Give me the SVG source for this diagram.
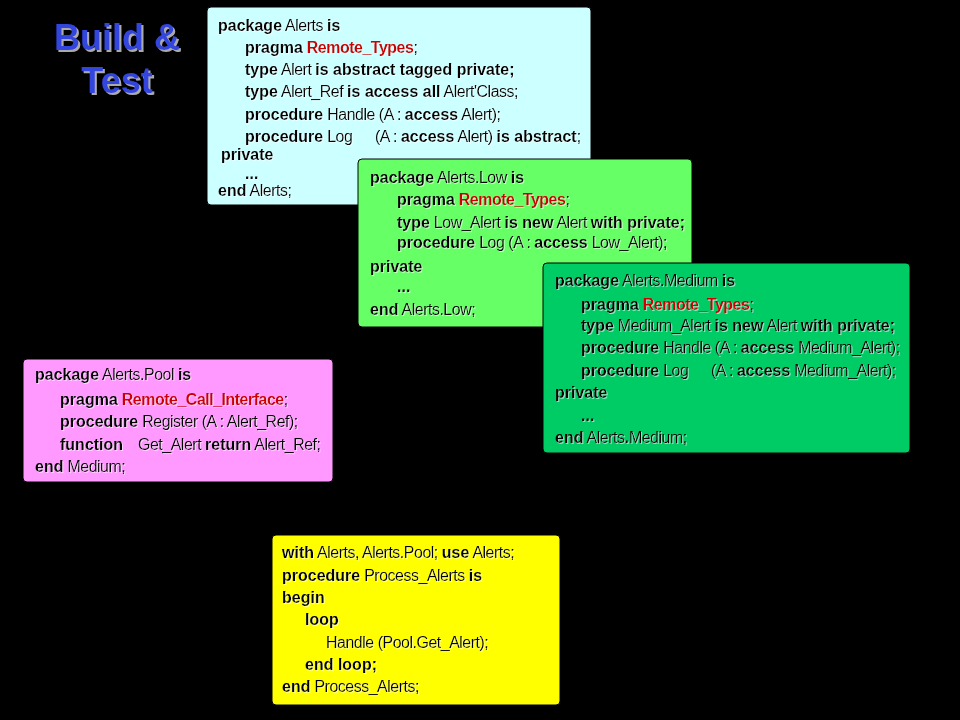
<svg xmlns="http://www.w3.org/2000/svg" width="960" height="720" viewBox="0 0 960 720">
<defs>
<filter id="ts" x="-5%" y="-20%" width="110%" height="150%">
<feDropShadow dx="1" dy="1" stdDeviation="0.3" flood-color="#ffffff" flood-opacity="0.55"/>
</filter>
<filter id="tt" x="-10%" y="-20%" width="120%" height="150%">
<feDropShadow dx="2" dy="2" stdDeviation="0.5" flood-color="#aaaaaa" flood-opacity="1"/>
</filter>
</defs>
<style>
text.c{font-family:"Liberation Sans",Arial,sans-serif;font-size:16px;fill:#000;letter-spacing:-0.5px;filter:url(#ts)}
.k{font-weight:bold;letter-spacing:0}
.r{font-weight:bold;fill:#CC0000;letter-spacing:-0.5px}
.box{stroke:#000;stroke-width:1}
.title{font-family:"Liberation Sans",Arial,sans-serif;font-size:36px;font-weight:bold;fill:#3344DD;text-anchor:middle;filter:url(#tt)}
</style>
<rect x="0" y="0" width="960" height="720" fill="#000"/>

<g id="title">
<text class="title" x="117" y="50">Build &amp;</text>
<text class="title" x="117" y="93">Test</text>
</g>

<g id="connectors"/>

<g id="alerts">
<rect class="box" x="207" y="7" width="384" height="198" rx="4" fill="#CCFFFF"/>
<text class="c" x="218" y="31"><tspan class="k">package</tspan> Alerts <tspan class="k">is</tspan></text>
<text class="c" x="245" y="53"><tspan class="k">pragma</tspan> <tspan class="r">Remote_Types</tspan>;</text>
<text class="c" x="245" y="75"><tspan class="k">type</tspan> Alert <tspan class="k">is abstract tagged private;</tspan></text>
<text class="c" x="245" y="97"><tspan class="k">type</tspan> Alert_Ref <tspan class="k">is access all</tspan> Alert'Class;</text>
<text class="c" x="245" y="120"><tspan class="k">procedure</tspan> Handle (A : <tspan class="k">access</tspan> Alert);</text>
<text class="c" x="245" y="142"><tspan class="k">procedure</tspan> Log<tspan x="375">(A : </tspan><tspan class="k">access</tspan> Alert) <tspan class="k">is abstract</tspan>;</text>
<text class="c" x="221" y="160"><tspan class="k">private</tspan></text>
<text class="c" x="245" y="179"><tspan class="k">...</tspan></text>
<text class="c" x="218" y="196"><tspan class="k">end</tspan> Alerts;</text>
</g>

<g id="alerts-low">
<rect class="box" x="358" y="159" width="334" height="168" rx="4" fill="#66FF66"/>
<text class="c" x="370" y="183"><tspan class="k">package</tspan> Alerts.Low <tspan class="k">is</tspan></text>
<text class="c" x="397" y="205"><tspan class="k">pragma</tspan> <tspan class="r">Remote_Types</tspan>;</text>
<text class="c" x="397" y="228"><tspan class="k">type</tspan> Low_Alert <tspan class="k">is new</tspan> Alert <tspan class="k">with private;</tspan></text>
<text class="c" x="397" y="248"><tspan class="k">procedure</tspan> Log (A : <tspan class="k">access</tspan> Low_Alert);</text>
<text class="c" x="370" y="272"><tspan class="k">private</tspan></text>
<text class="c" x="397" y="292"><tspan class="k">...</tspan></text>
<text class="c" x="370" y="315"><tspan class="k">end</tspan> Alerts.Low;</text>
</g>

<g id="alerts-medium">
<rect class="box" x="543" y="263" width="367" height="190" rx="4" fill="#00CC66"/>
<text class="c" x="555" y="286"><tspan class="k">package</tspan> Alerts.Medium <tspan class="k">is</tspan></text>
<text class="c" x="581" y="310"><tspan class="k">pragma</tspan> <tspan class="r">Remote_Types</tspan>;</text>
<text class="c" x="581" y="331"><tspan class="k">type</tspan> Medium_Alert <tspan class="k">is new</tspan> Alert <tspan class="k">with private;</tspan></text>
<text class="c" x="581" y="353"><tspan class="k">procedure</tspan> Handle (A : <tspan class="k">access</tspan> Medium_Alert);</text>
<text class="c" x="581" y="376"><tspan class="k">procedure</tspan> Log<tspan x="711">(A : </tspan><tspan class="k">access</tspan> Medium_Alert);</text>
<text class="c" x="555" y="398"><tspan class="k">private</tspan></text>
<text class="c" x="581" y="421"><tspan class="k">...</tspan></text>
<text class="c" x="555" y="443"><tspan class="k">end</tspan> Alerts<tspan class="k">.</tspan>Medium;</text>
</g>

<g id="alerts-pool">
<rect class="box" x="23" y="359" width="310" height="123" rx="4" fill="#FF99FF"/>
<text class="c" x="35" y="380"><tspan class="k">package</tspan> Alerts.Pool <tspan class="k">is</tspan></text>
<text class="c" x="60" y="405"><tspan class="k">pragma</tspan> <tspan class="r">Remote_Call_Interface</tspan>;</text>
<text class="c" x="60" y="427"><tspan class="k">procedure</tspan> Register (A : Alert_Ref);</text>
<text class="c" x="60" y="450"><tspan class="k">function</tspan><tspan x="138">Get_Alert </tspan><tspan class="k">return</tspan> Alert_Ref;</text>
<text class="c" x="35" y="472"><tspan class="k">end</tspan> Medium;</text>
</g>

<g id="process-alerts">
<rect class="box" x="272" y="535" width="288" height="170" rx="4" fill="#FFFF00"/>
<text class="c" x="282" y="558"><tspan class="k">with</tspan> Alerts, Alerts.Pool; <tspan class="k">use</tspan> Alerts;</text>
<text class="c" x="282" y="581"><tspan class="k">procedure</tspan> Process_Alerts <tspan class="k">is</tspan></text>
<text class="c" x="282" y="603"><tspan class="k">begin</tspan></text>
<text class="c" x="305" y="625"><tspan class="k">loop</tspan></text>
<text class="c" x="326" y="648">Handle (Pool.Get_Alert);</text>
<text class="c" x="305" y="670"><tspan class="k">end loop;</tspan></text>
<text class="c" x="282" y="692"><tspan class="k">end</tspan> Process_Alerts;</text>
</g>
</svg>
